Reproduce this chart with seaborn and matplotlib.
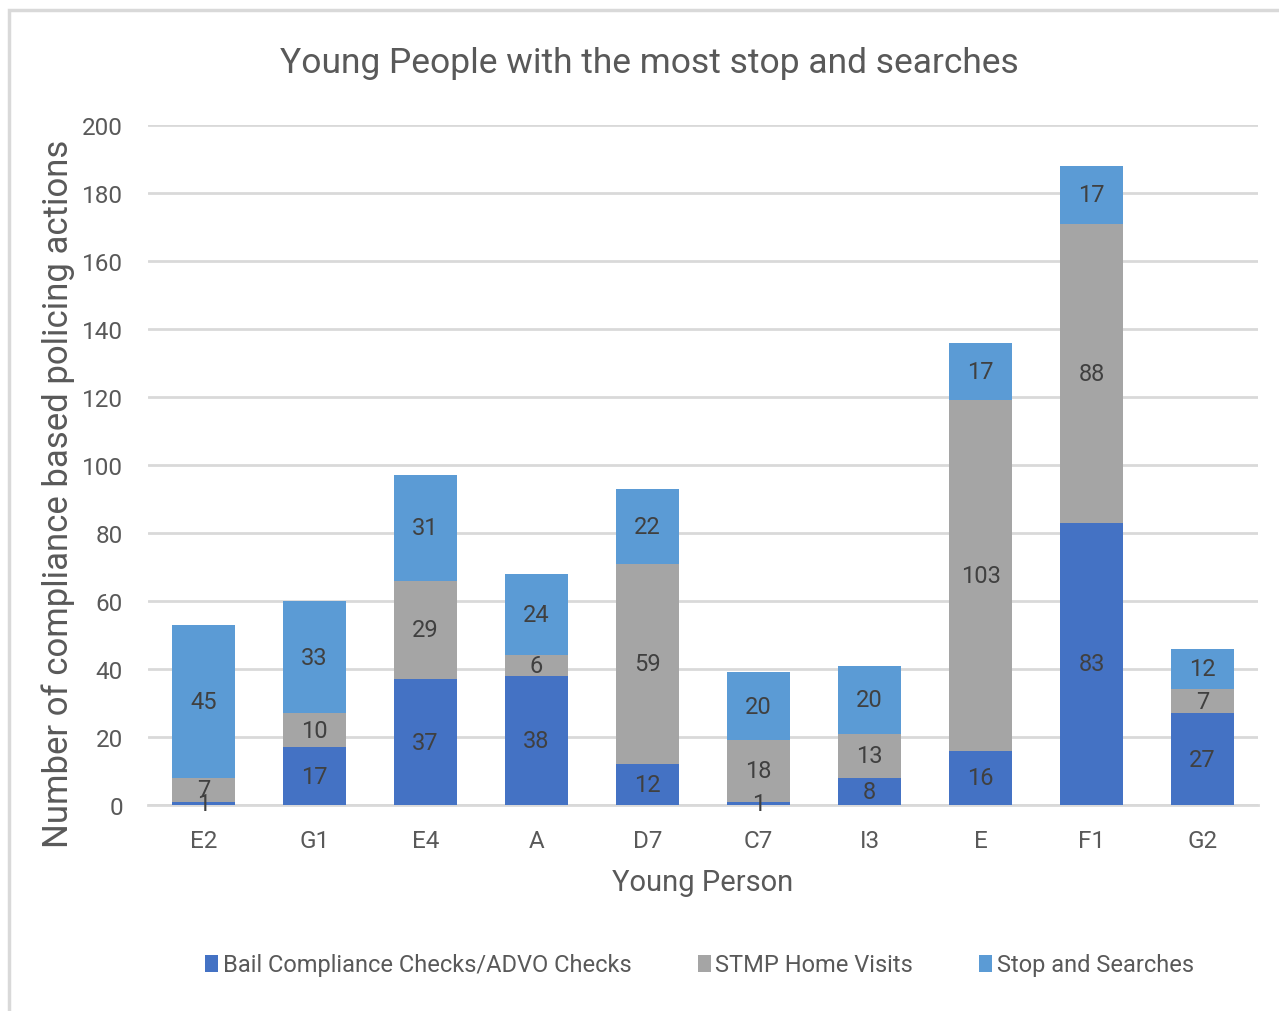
import matplotlib
matplotlib.use("Agg")
import matplotlib.pyplot as plt
from matplotlib.patches import Rectangle
import seaborn as sns
import pandas as pd
import numpy as np

# chart data
people = ["E2", "G1", "E4", "A", "D7", "C7", "I3", "E", "F1", "G2"]
bail_checks = [1, 17, 37, 38, 12, 1, 8, 16, 83, 27]
stmp_visits = [7, 10, 29, 6, 59, 18, 13, 103, 88, 7]
stop_searches = [45, 33, 31, 24, 22, 20, 20, 17, 17, 12]
series_names = ["Bail Compliance Checks/ADVO Checks", "STMP Home Visits", "Stop and Searches"]
colors = ["#4472C4", "#A5A5A5", "#5B9BD5"]

df = pd.DataFrame({"person": people, "bail": bail_checks,
                   "stmp": stmp_visits, "stop": stop_searches})

sns.set_style("white")
plt.rcParams["font.family"] = ["Roboto", "DejaVu Sans"]
text_col = "#595959"

fig = plt.figure(figsize=(12.79, 10.12), dpi=100)
ax = fig.add_axes([0.1157, 0.2036, 0.8679, 0.6719])

# outer chart border (cropped on right/bottom like the original)
fig.patches.append(Rectangle((9 / 1279, -0.1), 1.2, 1 - 11 / 1012 + 0.1,
                             transform=fig.transFigure, fill=False,
                             edgecolor="#D9D9D9", linewidth=2.5, zorder=0))

bottom = np.zeros(len(people))
for col, name, c in zip(["bail", "stmp", "stop"], series_names, colors):
    sns.barplot(data=df, x="person", y=col, bottom=bottom, color=c,
                saturation=1, width=0.56, label=name, ax=ax, zorder=3,
                linewidth=0)
    bottom = bottom + df[col].values

for cont in ax.containers:
    ax.bar_label(cont, label_type="center", fontsize=17, color="#404040")

ax.set_ylim(0, 200)
ax.set_yticks(range(0, 201, 20))
ax.set_xlim(-0.5, len(people) - 0.5)
ax.yaxis.grid(True, color="#D9D9D9", linewidth=2)
ax.set_axisbelow(True)
for s in ["top", "right", "left"]:
    ax.spines[s].set_visible(False)
ax.spines["bottom"].set_color("#D9D9D9")
ax.spines["bottom"].set_linewidth(2)
ax.tick_params(axis="both", length=0, labelsize=17.5, labelcolor=text_col)
ax.tick_params(axis="x", pad=17)
ax.tick_params(axis="y", pad=18)

ax.set_xlabel("Young Person", fontsize=21, color=text_col, labelpad=12)
ax.set_ylabel("Number of compliance based policing actions", fontsize=25,
              color=text_col)
ax.yaxis.set_label_coords(-0.066, 0.459)
fig.text(0.508, 1 - 63 / 1012, "Young People with the most stop and searches",
         ha="center", va="center", fontsize=25.5, color=text_col)

handles, labels = ax.get_legend_handles_labels()
if ax.legend_:
    ax.legend_.remove()
fig.legend(handles, labels, loc="center", bbox_to_anchor=(0.547, 1 - 966 / 1012),
           ncol=3, frameon=False, fontsize=17, labelcolor=text_col,
           handlelength=0.55, handleheight=0.7, handletextpad=0.2,
           columnspacing=2.8)

fig.savefig("out.png", dpi=100)
